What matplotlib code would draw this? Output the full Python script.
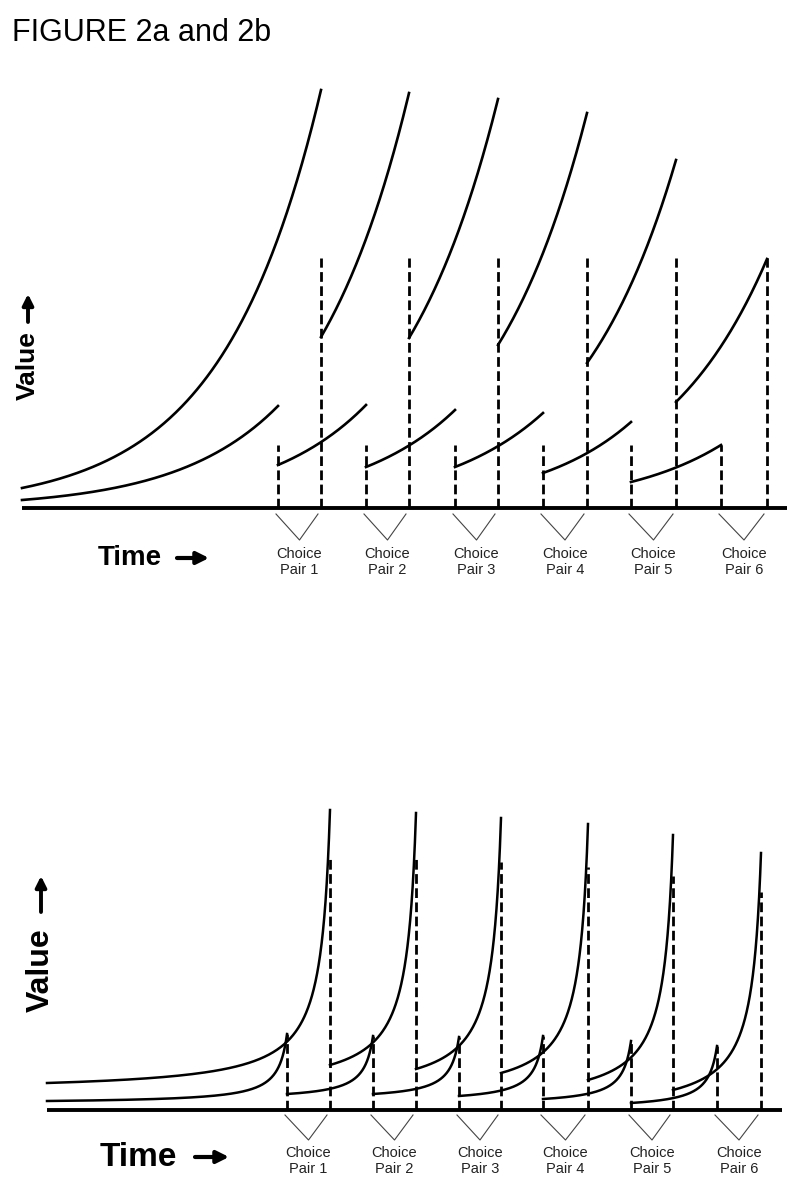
import numpy as np
import matplotlib
matplotlib.use("Agg")
import matplotlib.pyplot as plt

plt.rcParams["font.family"] = ["Liberation Sans", "DejaVu Sans"]

# ── data (x = time, y = value above baseline) ─────────────
pair_labels = ["Choice\nPair 1", "Choice\nPair 2", "Choice\nPair 3",
               "Choice\nPair 4", "Choice\nPair 5", "Choice\nPair 6"]

# 2a: exponential discounting
a_t_start, a_t_end = 22, 787
a_ss_t = [278, 366, 455, 543, 631, 721]
a_ll_t = [321, 409, 498, 587, 676, 767]
a_ss_start = [8, 43, 41, 41, 35, 26]
a_ss_peak = [102, 103, 98, 95, 86, 63]
a_ll_start = [20, 171, 170, 163, 145, 106]
a_ll_peak = [418, 415, 409, 395, 348, 249]
a_ss_amount = 63
a_ll_amount = 250

# 2b: hyperbolic discounting
b_t_start, b_t_end = 47, 782
b_ss_t = [287, 373, 459, 543, 631, 717]
b_ll_t = [330, 416, 501, 588, 673, 761]
b_ss_start = [9, 16, 16, 14, 11, 7]
b_ss_peak = [76, 74, 73, 74, 69, 64]
b_ll_start = [27, 45, 41, 37, 30, 20]
b_ll_peak = [300, 297, 292, 286, 275, 257]
hyp_k = 0.107

H = 1191
fig = plt.figure(figsize=(8, 11.91), dpi=100)
fig.patch.set_facecolor("white")


def panel_axes(base_px, top_px):
    ax = fig.add_axes([0, (H - base_px) / H, 1, (base_px - top_px) / H])
    ax.set_xlim(0, 800)
    ax.set_ylim(0, base_px - top_px)
    ax.axis("off")
    return ax


def exp_curve(t0, t1, v0, v1):
    t = np.linspace(t0, t1, 300)
    return t, v0 * (v1 / v0) ** ((t - t0) / (t1 - t0))


def hyp_curve(t0, t1, v0, v1, k=hyp_k):
    D = t1 - t0
    c = (v0 * (1 + k * D) - v1) / (k * D)
    d = np.concatenate([np.geomspace(D, 0.02, 400), [0.0]])
    return t1 - d, c + (v1 - c) / (1 + k * d)


def draw_common(ax, t_start, t_end, ss_t, ll_t, v_top, v_bot, txt_y,
                time_xy, arrow_x, value_xy, varrow, fs_lab):
    ax.plot([t_start, t_end], [0, 0], color="black", lw=2.8,
            solid_capstyle="butt", zorder=4, clip_on=False)
    for s, l, lab in zip(ss_t, ll_t, pair_labels):
        mid = (s + l) / 2
        ax.plot([s - 2, mid, l - 3], [v_top, v_bot, v_top], color="#444444",
                lw=0.8, clip_on=False)
        ax.text(mid, txt_y, lab, ha="center", va="top", fontsize=10.5,
                linespacing=1.2, color="#222222", clip_on=False)
    ax.text(time_xy[0], time_xy[1], "Time", ha="center", va="center",
            fontsize=fs_lab, fontweight="bold", clip_on=False)
    ax.annotate("", xy=(arrow_x[1], time_xy[1]), xytext=(arrow_x[0], time_xy[1]),
                arrowprops=dict(arrowstyle="-|>", lw=3.0, color="black",
                                mutation_scale=18, shrinkA=0, shrinkB=0),
                annotation_clip=False)
    ax.text(value_xy[0], value_xy[1], "Value", ha="center", va="center",
            rotation=90, fontsize=fs_lab - 1, fontweight="bold")
    ax.annotate("", xy=(value_xy[0], varrow[1]), xytext=(value_xy[0], varrow[0]),
                arrowprops=dict(arrowstyle="-|>", lw=2.8, color="black",
                                mutation_scale=16, shrinkA=0, shrinkB=0))


dash = (0, (3.5, 1.6))

# ── FIGURE 2a ─────────────────────────────────────────────
ax_a = panel_axes(508, 60)
ss_from = [a_t_start] + a_ss_t[:-1]
ll_from = [a_t_start] + a_ll_t[:-1]
for i in range(6):
    ax_a.plot(*exp_curve(ss_from[i], a_ss_t[i], a_ss_start[i], a_ss_peak[i]),
              color="black", lw=1.9)
    ax_a.plot(*exp_curve(ll_from[i], a_ll_t[i], a_ll_start[i], a_ll_peak[i]),
              color="black", lw=1.9)
    ax_a.plot([a_ss_t[i], a_ss_t[i]], [0, a_ss_amount], color="black",
              lw=2.0, ls=dash)
    ax_a.plot([a_ll_t[i], a_ll_t[i]], [0, a_ll_amount], color="black",
              lw=2.0, ls=dash)
draw_common(ax_a, a_t_start, a_t_end, a_ss_t, a_ll_t, -6, -32, -39,
            (130, -50), (177, 209), (28, 142), (186, 214), 20)

# ── FIGURE 2b ─────────────────────────────────────────────
ax_b = panel_axes(1110, 640)
ss_from = [b_t_start] + b_ss_t[:-1]
ll_from = [b_t_start] + b_ll_t[:-1]
for i in range(6):
    ax_b.plot(*hyp_curve(ss_from[i], b_ss_t[i], b_ss_start[i], b_ss_peak[i]),
              color="black", lw=1.8)
    ax_b.plot(*hyp_curve(ll_from[i], b_ll_t[i], b_ll_start[i], b_ll_peak[i]),
              color="black", lw=1.8)
    ax_b.plot([b_ss_t[i], b_ss_t[i]], [0, b_ss_peak[i]], color="black",
              lw=2.0, ls=dash)
    ax_b.plot([b_ll_t[i], b_ll_t[i]], [0, b_ll_peak[i] * 0.85], color="black",
              lw=2.0, ls=dash)
draw_common(ax_b, b_t_start, b_t_end, b_ss_t, b_ll_t, -5, -30, -36,
            (138, -47), (195, 229), (41, 140), (198, 234), 24)

fig.text(12 / 800, 1 - 33 / H, "FIGURE 2a and 2b", fontsize=22,
         ha="left", va="center")

fig.savefig("out.png", dpi=100, facecolor="white")
